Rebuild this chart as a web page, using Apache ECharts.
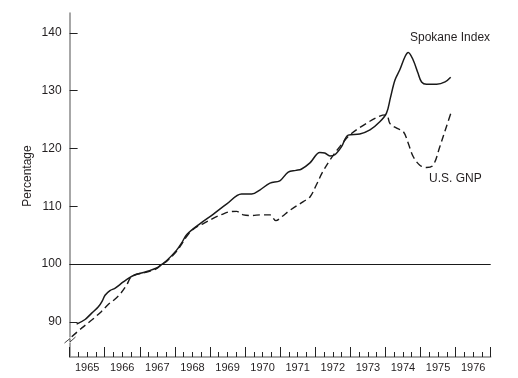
<!DOCTYPE html>
<html>
<head>
<meta charset="utf-8">
<script src="https://cdn.jsdelivr.net/npm/echarts@6/dist/echarts.min.js"></script>
<style>html,body{margin:0;padding:0;background:#fff}#c{width:518px;height:378px}</style>
</head>
<body>
<div id="c"></div>
<script>
// Spokane Index (solid)
var spokaneT = [1965.20,1965.44,1965.63,1965.82,1965.93,1966.01,1966.15,1966.29,1966.53,1966.72,1966.86,1967.20,1967.48,1967.62,1967.77,1968.05,1968.19,1968.34,1968.72,1969.09,1969.48,1969.90,1970.19,1970.42,1970.71,1970.99,1971.23,1971.45,1971.60,1971.85,1972.13,1972.27,1972.42,1972.56,1972.75,1972.94,1973.27,1973.56,1973.84,1974.03,1974.14,1974.27,1974.41,1974.56,1974.65,1974.79,1974.93,1975.03,1975.17,1975.46,1975.70,1975.86];
var spokaneV = [89.6,90.4,91.5,92.6,93.6,94.6,95.4,95.8,96.9,97.7,98.1,98.7,99.3,99.9,100.6,102.4,103.6,105.1,107.0,108.6,110.4,112.1,112.1,112.8,114.0,114.4,115.9,116.2,116.4,117.5,119.3,119.2,118.7,118.9,120.3,122.3,122.5,123.2,124.6,126.1,128.7,131.8,133.6,135.9,136.6,135.3,133.0,131.5,131.1,131.1,131.5,132.3];
// U.S. GNP (dashed)
var gnpT = [1965.06,1965.34,1965.63,1965.91,1966.10,1966.29,1966.44,1966.62,1966.78,1967.20,1967.48,1967.62,1967.77,1968.05,1968.19,1968.34,1968.52,1968.81,1969.09,1969.35,1969.57,1969.76,1969.95,1970.19,1970.45,1970.71,1970.88,1971.05,1971.28,1971.66,1971.85,1972.04,1972.20,1972.42,1972.70,1972.98,1973.37,1973.84,1974.03,1974.13,1974.32,1974.51,1974.65,1974.79,1974.98,1975.17,1975.36,1975.55,1975.74,1975.86];
var gnpV = [87.4,88.9,90.3,91.8,93.0,93.9,94.8,96.3,97.9,98.6,99.2,99.9,100.5,102.2,103.4,104.8,106.0,107.0,107.9,108.6,109.05,109.1,108.5,108.4,108.5,108.5,107.5,108.2,109.3,110.8,111.6,113.8,115.8,118.0,120.3,122.3,124.0,125.6,125.8,124.3,123.5,122.9,120.9,118.6,117.1,116.7,117.1,120.3,123.8,126.0];
var yTicks = [90,100,110,120,130,140];
var yearLabels = [1965,1966,1967,1968,1969,1970,1971,1972,1973,1974,1975,1976];
var baseline = 100;

function pairs(t, v){ return t.map(function(x,i){ return [x, v[i]]; }); }

var chart = echarts.init(document.getElementById('c'), null, {renderer:'canvas'});
var txt = '#231f20';
var option = {
  animation: false,
  backgroundColor: '#fff',
  grid: {left: 69.6, right: 27.3, top: 13, bottom: 21, containLabel: false},
  xAxis: {
    type: 'value', min: 1965, max: 1977, interval: 1,
    axisLine: {onZero: false, lineStyle: {color: '#8a8a8a', width: 1.5}},
    axisTick: {inside: true, length: 10, lineStyle: {color: '#222', width: 1}},
    minorTick: {show: true, splitNumber: 4, length: 5, lineStyle: {color: '#222', width: 1}},
    splitLine: {show: false},
    axisLabel: {
      customValues: yearLabels.map(function(y){ return y + 0.5; }),
      formatter: function(v){ return String(Math.floor(v)); },
      color: txt, fontSize: 11, fontFamily: 'Liberation Sans, Arial, sans-serif', margin: 5
    }
  },
  yAxis: {
    type: 'value', min: 83.91, max: 143.43,
    axisLine: {show: true, onZero: false, lineStyle: {color: '#8a8a8a', width: 1.5}},
    axisTick: {show: true, inside: true, length: 8, customValues: yTicks, lineStyle: {color: '#222', width: 1}},
    splitLine: {show: false},
    axisLabel: {customValues: yTicks, color: txt, fontSize: 12, fontFamily: 'Liberation Sans, Arial, sans-serif', margin: 8}
  },
  series: [
    {
      name: 'Spokane Index', type: 'line', data: pairs(spokaneT, spokaneV),
      showSymbol: false, smooth: 0.35,
      lineStyle: {color: '#1a1a1a', width: 1.5},
      markLine: {
        silent: true, symbol: 'none', label: {show: false},
        lineStyle: {color: '#1a1a1a', width: 1, type: 'solid'},
        data: [{yAxis: baseline}]
      },
      z: 3
    },
    {
      name: 'U.S. GNP', type: 'line', data: pairs(gnpT, gnpV),
      showSymbol: false, smooth: 0.35,
      lineStyle: {color: '#1a1a1a', width: 1.4, type: [7, 4]},
      z: 3
    }
  ],
  graphic: [
    {type: 'text', left: 410, top: 32, style: {text: 'Spokane Index', fill: txt, font: '12px "Liberation Sans", Arial, sans-serif'}},
    {type: 'text', left: 429, top: 173, style: {text: 'U.S. GNP', fill: txt, font: '12px "Liberation Sans", Arial, sans-serif'}},
    {type: 'text', x: 28, y: 176, rotation: Math.PI/2, style: {text: 'Percentage', fill: txt, font: '12px "Liberation Sans", Arial, sans-serif', align: 'center', verticalAlign: 'middle'}},
    {type: 'rect', shape: {x: 67, y: 337.5, width: 5, height: 5}, style: {fill: '#fff'}, z: 10},
    {type: 'polyline', shape: {points: [[64.5,343],[70,338.5],[70,342],[75.5,337]]}, style: {stroke: '#444', lineWidth: 1, fill: null}, z: 11}
  ]
};
chart.setOption(option);
</script>
</body>
</html>
